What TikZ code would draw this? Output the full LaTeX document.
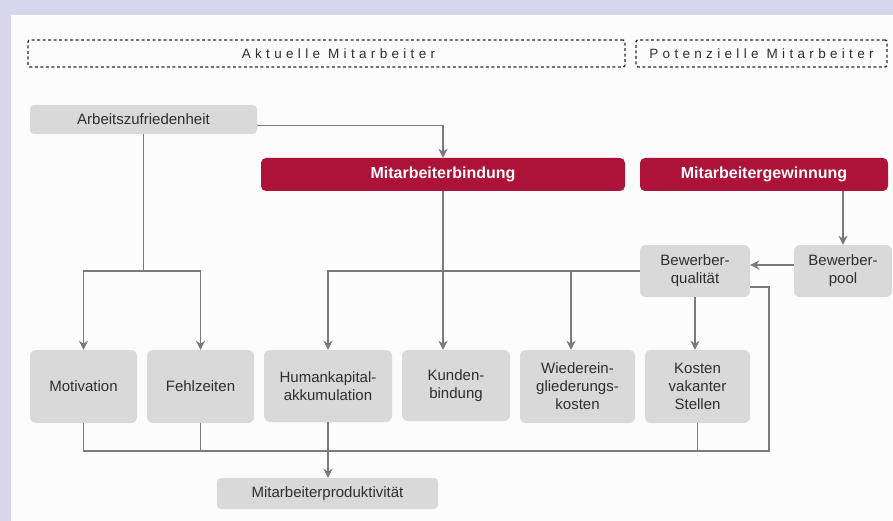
\documentclass[tikz,border=0pt]{standalone}
\usepackage{fontspec}
\setmainfont{Liberation Sans}
\usetikzlibrary{arrows.meta}
\definecolor{rahmen}{HTML}{D7D7EC}
\definecolor{papier}{HTML}{FCFCFC}
\definecolor{kasten}{HTML}{D9D9D9}
\definecolor{weinrot}{HTML}{AD1238}
\definecolor{linie}{HTML}{7A7A7A}
\definecolor{schrift}{HTML}{2E2E2E}
\begin{document}
\begin{tikzpicture}[x=1pt, y=-1pt,
		box/.style={fill=kasten, rounded corners=6pt, inner sep=0pt, align=center, text=schrift, font=\fontsize{15}{18}\selectfont},
		rot/.style={fill=weinrot, rounded corners=5pt, inner sep=0pt, minimum height=33pt, text=white, font=\fontsize{16}{19}\selectfont\bfseries},
		kopf/.style={draw=schrift, line width=1.4pt, dash pattern=on 3pt off 2.5pt, rounded corners=2pt, inner sep=0pt, minimum height=27pt, text=schrift, font=\fontsize{13.5}{15}\selectfont\addfontfeature{LetterSpace=32}},
		verb/.style={draw=linie, line width=1.9pt},
		pfeil/.style={verb, -{Stealth[length=9pt, width=9pt]}}]
	\useasboundingbox (0,0) rectangle (893,521);
	\fill[rahmen] (0,0) rectangle (893,521);
	\fill[papier] (11,15) rectangle (893,521);
	\node[kopf, minimum width=597pt] (aktuell) at (326.5,53.5) {\hspace*{24pt}Aktuelle Mitarbeiter};
	\node[kopf, minimum width=251pt] (potenz) at (761.5,53.5) {Potenzielle Mitarbeiter};
	\node[box, rounded corners=4pt, minimum width=227pt, minimum height=29pt] (zufr) at (143.5,119.5) {Arbeitszufriedenheit};
	\node[rot, minimum width=364pt] (bindung) at (443,174.5) {Mitarbeiterbindung};
	\node[rot, minimum width=248pt] (gewinn) at (764,174.5) {Mitarbeitergewinnung};
	\node[box, minimum width=110pt, minimum height=52pt] (qual) at (695,271) {Bewerber-\\qualität};
	\node[box, minimum width=98pt, minimum height=52pt] (pool) at (843,271) {Bewerber-\\pool};
	\node[box, minimum width=107pt, minimum height=73pt] (moti) at (83.5,386.5) {Motivation};
	\node[box, minimum width=107pt, minimum height=73pt] (fehl) at (200.5,386.5) {Fehlzeiten};
	\node[box, minimum width=128pt, minimum height=72pt] (human) at (328,386) {Humankapital-\\akkumulation};
	\node[box, minimum width=108pt, minimum height=71pt] (kunde) at (456,385.5) {Kunden-\\bindung};
	\node[box, minimum width=115pt, minimum height=73pt] (wieder) at (577.5,386.5) {Wiederein-\\gliederungs-\\kosten};
	\node[box, minimum width=105pt, minimum height=73pt] (vakant) at (697.5,386.5) {Kosten\\vakanter\\Stellen};
	\node[box, rounded corners=4pt, minimum width=221pt, minimum height=31pt] (produkt) at (327.5,493.5) {Mitarbeiterproduktivität};
	\coordinate (gabel) at (143.5,271);
	\coordinate (sammel) at (769,451);
	\draw[pfeil] ([yshift=-6pt]zufr.east) -| (bindung);
	\draw[verb] (zufr) -- (gabel);
	\draw[pfeil] (gabel) -| (moti);
	\draw[pfeil] (gabel) -| (fehl);
	\draw[pfeil] (bindung) -- (kunde.north -| bindung);
	\draw[pfeil] (qual) -| (human);
	\draw[pfeil] (qual) -| ([xshift=-6.5pt]wieder.north);
	\draw[pfeil] ([yshift=6pt]pool.west) -- ([yshift=6pt]qual.east);
	\draw[pfeil] (gewinn.south -| pool) -- (pool);
	\draw[pfeil] (qual) -- (vakant.north -| qual);
	\draw[verb] ([yshift=-16pt]qual.east) -| (sammel) -| (moti);
	\draw[verb] (fehl) -- (fehl |- sammel);
	\draw[verb] (vakant) -- (vakant |- sammel);
	\draw[pfeil] (human) -- (produkt.north -| human);
\end{tikzpicture}
\end{document}
